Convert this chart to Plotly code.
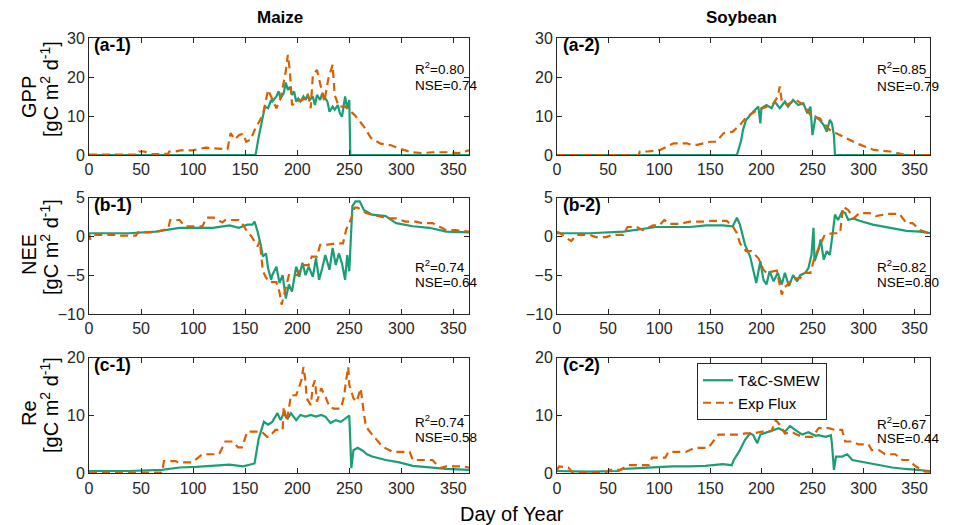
import plotly.graph_objects as go

# ---------------- data ----------------
gpp_maize_mod_day = [0,100,157,160,163,167,169,172,175,176,180,182,184,187,189,191,193,195,197,199,201,203,206,208,210,212,215,217,219,222,224,227,229,231,234,236,239,241,243,246,248,250,251,300,365]
gpp_maize_mod = [0,0,0,0,4.7,9.4,12.4,12,14.1,13.7,15,16.3,14.5,15.8,18.6,16.7,17.5,15.4,16.3,13.7,14.5,13.7,15,14.1,15.4,14.1,15,12.8,15.4,14.1,15.8,14.5,13.7,11.1,12.4,11.6,12.8,10.7,9.8,15,12,14.1,0,0,0]
gpp_maize_obs_day = [0,25,47,48,53,60,62,76,77,83,88,90,99,105,112,120,128,133,136,140,144,148,151,155,160,164,167,172,176,180,184,189,191,193,195,200,205,210,213,215,219,222,226,230,234,236,240,246,255,264,271,280,290,300,310,320,330,345,355,365]
gpp_maize_obs = [0.1,0.1,0.1,0.9,0.9,0.2,0.2,0.3,0.9,0.9,1.2,1.2,1.2,1.5,1.9,1.7,1.5,1.5,5.6,4,5.1,5.5,3.4,3.9,6.9,9,10.3,16.7,14.1,12,14.5,21.4,25.7,21.4,12.8,13.7,14.1,15.8,12,20.5,21.8,18.4,13.7,19.7,23.1,15.4,12.4,12.4,10.3,7.3,4.3,2.9,2.5,1.5,0.7,0.5,0.7,0.7,0.5,1.2]

gpp_soy_mod_day = [0,100,176,180,182,185,189,192,197,199,200,205,210,213,218,223,226,231,236,241,245,248,250,253,257,261,264,267,269,271,272,300,365]
gpp_soy_mod = [0,0,0,3.5,6.4,9,10.3,11.1,12.4,8.1,12,12.8,12,13.7,12,13.7,12.4,14.1,12.8,13.3,10.7,12.4,5.1,9.8,9,7.7,6,9,8.1,5,0,0,0]
gpp_soy_obs_day = [0,80,81,89,95,101,110,114,127,132,137,145,150,156,163,172,179,186,195,205,212,216,218,220,225,234,241,249,257,267,277,293,310,326,342,365]
gpp_soy_obs = [0,0,0.9,0.9,1.1,1.3,2.5,3,3,2.6,2.6,3.2,3.4,3.4,5.6,6,7.7,9.9,11.3,12.4,13.3,15,17.6,13.7,12.9,14.1,12.9,9.9,9.4,6.4,5.1,3,1.3,0.9,0,0]

nee_maize_mod_day = [0,38,64,87,103,119,135,144,152,157,159,162,165,167,170,172,175,176,180,183,186,189,192,195,199,202,205,208,211,215,218,221,224,227,231,234,237,240,243,246,248,250,253,256,260,264,272,285,295,311,327,343,365]
nee_maize_mod = [0.4,0.4,0.6,1.1,1.1,1.1,1.4,1.1,1.5,1.5,1.9,0.6,-1.1,-2.6,-2.2,-4.1,-5.6,-5,-3.9,-6,-5,-8.0,-6.2,-7.1,-3.9,-5.2,-3.4,-5,-3.9,-5.2,-2.8,-5.6,-4.1,-2.4,-4.3,-1.5,-3.7,-2.2,-3.5,-5.6,-2.4,-4.5,3.9,4.5,4.5,3.4,2.8,2.6,1.7,1.3,1.1,0.6,0.5]
nee_maize_obs_day = [0,1,4,26,30,45,47,58,66,76,78,87,92,96,109,113,115,120,128,131,144,147,152,156,162,164,167,172,176,180,183,185,188,192,197,200,203,206,211,214,219,222,228,234,237,244,247,252,255,258,266,272,279,288,295,304,314,320,330,343,352,365]
nee_maize_obs = [0.4,-0.4,0.2,0.2,0.1,0.1,0.5,0.5,0.6,1.0,2.1,2.1,1.3,1.3,1.3,2.4,2.4,2.4,1.8,2.1,2.1,1.7,0.6,0,-1.3,-0.6,-4.5,-5.8,-5.9,-5.9,-7.2,-8.8,-7.2,-5,-5,-5,-4.2,-3.7,-3.7,-2.6,-2.6,-1.1,-1.1,-1,-0.9,-0.9,0.85,2.35,3.7,3.7,3.0,2.8,2.6,2.3,2.3,1.9,1.9,1.7,1.7,0.8,0.8,0.6]

nee_soy_mod_day = [0,32,65,81,97,113,130,146,162,172,176,179,184,189,192,195,199,202,205,208,212,216,220,223,227,231,235,238,243,246,249,251,252,256,258,261,264,267,270,272,275,279,282,285,290,296,309,326,342,355,365]
nee_soy_mod = [0.4,0.4,0.6,0.9,1.2,1.2,1.2,1.4,1.4,1.3,2.4,1.5,-1.1,-2.6,-4.3,-6,-3.2,-5.6,-6.2,-4.5,-5.8,-4.7,-6.2,-4.7,-6.4,-5,-5.8,-5,-4.7,-4.1,-2.4,1.1,-3.2,-1.7,-0.4,-3,-1.9,-2.4,0.6,2.8,2.1,3.2,3.0,2.1,2.3,2.0,1.5,1.1,0.7,0.6,0.4]
nee_soy_obs_day = [0,3,9,14,19,32,38,48,55,65,69,78,84,94,100,105,110,120,130,146,152,166,172,176,179,185,190,197,202,205,215,218,220,223,226,231,238,241,248,251,256,262,270,277,280,285,290,296,306,312,324,335,342,348,355,365]
nee_soy_obs = [0.6,0.4,-0.2,-0.6,0.2,0.2,-0.1,-0.1,0.2,0.2,1.2,1.2,0.8,1.4,1.4,2.1,1.6,1.6,1.9,1.9,2.0,2.0,1.3,0.4,-0.9,-1.9,-1.9,-2.8,-4.3,-4.7,-4.4,-6.2,-7.5,-6.5,-6.2,-5.4,-5.4,-4.7,-4.7,-3.2,-1.5,0.2,0.4,0.4,3.8,3.4,2.3,3.0,3.0,2.6,2.9,2.9,1.7,1.7,0.8,0.4]

re_maize_mod_day = [0,38,70,87,103,119,135,148,157,159,163,168,172,176,181,184,187,191,194,199,203,208,213,218,223,227,232,237,242,247,250,252,254,258,263,267,272,285,298,311,327,343,365]
re_maize_mod = [0.4,0.4,0.6,1.0,1.1,1.3,1.5,1.2,1.6,1.7,6.0,8.9,8.4,8.9,10.4,9.2,10.4,9.5,10.4,9.2,10.1,9.8,10.1,9.8,10.1,9.8,8.7,9.2,8.9,9.5,10.0,0.9,4.0,4.4,3.9,3.3,2.9,2.3,1.9,1.3,1.0,0.75,0.6]
re_maize_obs_day = [0,70,72,83,86,99,109,125,131,136,138,143,147,152,155,160,166,171,173,179,186,187,190,194,199,204,206,208,209,213,215,217,219,223,227,231,235,242,245,247,249,250,254,257,261,264,266,271,276,282,292,308,311,320,330,337,343,359,365]
re_maize_obs = [0.1,0.1,2.1,2.1,1.9,1.9,3.3,3.3,5.5,5.5,5.5,4.5,4.5,7.2,7.2,7.2,7.2,6.3,6.3,7.5,7.5,11.5,9,13.5,13.5,16.1,18.4,15.9,13,11.8,15,16.1,12.4,14.7,13.3,11.5,11.2,11.2,13.3,16.1,18.4,15.3,13,12.4,14.7,10.4,8.1,6.9,5.8,4.6,3.7,3.7,2.3,2.3,2.3,0.9,1.2,1.2,1.0]

re_soy_mod_day = [0,31,60,64,80,96,113,129,145,162,171,173,178,184,189,192,196,199,206,210,217,223,228,233,240,246,253,256,263,268,269,271,273,279,284,289,298,308,318,328,341,354,365]
re_soy_mod = [0.4,0.3,0.4,0.75,0.9,1.1,1.2,1.2,1.3,1.6,1.4,2.3,3.7,5.8,6.9,6.6,5.2,6.7,7.1,7.3,7.8,7.2,8.2,7.5,6.7,7.1,6.5,6.6,6.3,6.6,5.2,0.6,2.9,2.9,3.3,2.3,2.0,1.7,1.3,1.0,0.75,0.6,0.4]
re_soy_obs_day = [0,2,11,15,24,47,52,62,70,90,93,106,109,126,135,148,158,178,184,191,204,210,214,218,223,230,236,243,250,256,266,272,279,282,289,295,305,308,315,321,331,338,344,351,360,365]
re_soy_obs = [0.6,1.2,1.0,0.2,0.1,0.1,0.6,0.6,1.4,1.4,2.7,2.7,3.7,3.7,4.4,4.4,6.7,6.7,6.9,6.9,7.3,7.3,9.2,8.4,6.9,7.1,6.6,6.3,6.3,7.8,7.8,7.5,7.5,5.5,5.5,5.0,5.0,4.0,4.0,3.3,3.3,2.3,2.3,1.2,0.3,0.3]

crops = ["Maize", "Soybean"]
variables = ["GPP", "NEE", "Re"]
panel_labels = [["(a-1)", "(a-2)"], ["(b-1)", "(b-2)"], ["(c-1)", "(c-2)"]]
r2_text = [["0.80", "0.85"], ["0.74", "0.82"], ["0.74", "0.67"]]
nse_text = [["0.74", "0.79"], ["0.64", "0.80"], ["0.58", "0.44"]]
y_ranges = [[0, 30], [-10, 5], [0, 20]]
y_dticks = [10, 5, 10]
x_ticks = [0, 50, 100, 150, 200, 250, 300, 350]
series_names = ["T&C-SMEW", "Exp Flux"]

series = [
    [(gpp_maize_mod_day, gpp_maize_mod, gpp_maize_obs_day, gpp_maize_obs),
     (gpp_soy_mod_day, gpp_soy_mod, gpp_soy_obs_day, gpp_soy_obs)],
    [(nee_maize_mod_day, nee_maize_mod, nee_maize_obs_day, nee_maize_obs),
     (nee_soy_mod_day, nee_soy_mod, nee_soy_obs_day, nee_soy_obs)],
    [(re_maize_mod_day, re_maize_mod, re_maize_obs_day, re_maize_obs),
     (re_soy_mod_day, re_soy_mod, re_soy_obs_day, re_soy_obs)],
]

# ---------------- layout helpers ----------------
# the page body has an 8px margin, so the figure is drawn 8px in from the corner
OFF = 8
W, H = 954 - OFF, 525 - OFF
def px(x):
    return (x - OFF) / W
def py(y):
    return 1 - (y - OFF) / H

GREEN = "#1B9E77"
ORANGE = "#D95F02"
AX = "#262626"
FONT = "Liberation Sans, Arial, sans-serif"

x_domains = [[px(89), px(469)], [px(557), px(930)]]
y_domains = [[py(155), py(38)], [py(314), py(197.5)], [py(473.3), py(357.7)]]

fig = go.Figure()
layout = {}
n = 0
for r in range(3):
    for c in range(2):
        n += 1
        xa = "x" if n == 1 else f"x{n}"
        ya = "y" if n == 1 else f"y{n}"
        md, mv, od, ov = series[r][c]
        first = (r == 2 and c == 1)
        fig.add_trace(go.Scatter(x=md, y=mv, mode="lines", name=series_names[0],
                                 line=dict(color=GREEN, width=2.2),
                                 xaxis=xa, yaxis=ya, showlegend=first, legendrank=1))
        fig.add_trace(go.Scatter(x=od, y=ov, mode="lines", name=series_names[1],
                                 line=dict(color=ORANGE, width=2.2, dash="8px,5px"),
                                 xaxis=xa, yaxis=ya, showlegend=first, legendrank=2))
        axcommon = dict(showline=True, linecolor=AX, linewidth=1, mirror="ticks",
                        ticks="inside", ticklen=5, tickcolor=AX, showgrid=False,
                        zeroline=False, tickfont=dict(family=FONT, size=16, color=AX))
        layout["xaxis" if n == 1 else f"xaxis{n}"] = dict(
            domain=x_domains[c], range=[0, 365], tickvals=x_ticks,
            anchor=ya, **axcommon)
        layout["yaxis" if n == 1 else f"yaxis{n}"] = dict(
            domain=y_domains[r], range=y_ranges[r], dtick=y_dticks[r],
            anchor=xa, **axcommon)

fig.update_layout(**layout)

ann = []
def add_text(x, y, text, size, xanchor="center", angle=0, align="center"):
    ann.append(dict(x=px(x), y=py(y), xref="paper", yref="paper", text=text,
                    showarrow=False, xanchor=xanchor, yanchor="middle",
                    textangle=angle, align=align,
                    font=dict(family=FONT, size=size, color="black")))

for c, cx in enumerate([280, 741]):
    add_text(cx, 17, f"<b>{crops[c]}</b>", 17)
label_y = [45, 205, 365]
r2_y = [[68, 68], [266, 266], [421, 423]]
nse_y = [[85, 86], [282, 282], [437, 438]]
var_y = [97, 255, 413]
for r in range(3):
    for c in range(2):
        add_text([92, 561][c], label_y[r], f"<b>{panel_labels[r][c]}</b>", 17.5, xanchor="left")
        sx = [413, 875][c]
        add_text(sx, r2_y[r][c], f"R<sup>2</sup>={r2_text[r][c]}", 13.5, xanchor="left")
        add_text(sx, nse_y[r][c], f"NSE={nse_text[r][c]}", 13.5, xanchor="left")
    add_text(29, var_y[r], variables[r], 20, angle=-90)
    add_text(49, var_y[r] - 8, "[gC m<sup>2</sup> d<sup>-1</sup>]", 20, angle=-90)
add_text(512, 514, "Day of Year", 20)

fig.update_layout(
    width=W, height=H, margin=dict(l=0, r=0, t=0, b=0, autoexpand=False),
    paper_bgcolor="white", plot_bgcolor="white",
    font=dict(family=FONT, color=AX),
    annotations=ann,
    legend=dict(x=px(697), y=py(363), xanchor="left", yanchor="top",
                bgcolor="white", bordercolor=AX, borderwidth=1,
                font=dict(family=FONT, size=15, color="black"), tracegroupgap=0,
                itemwidth=30, traceorder="normal"),
)

fig.write_html("out.html")
